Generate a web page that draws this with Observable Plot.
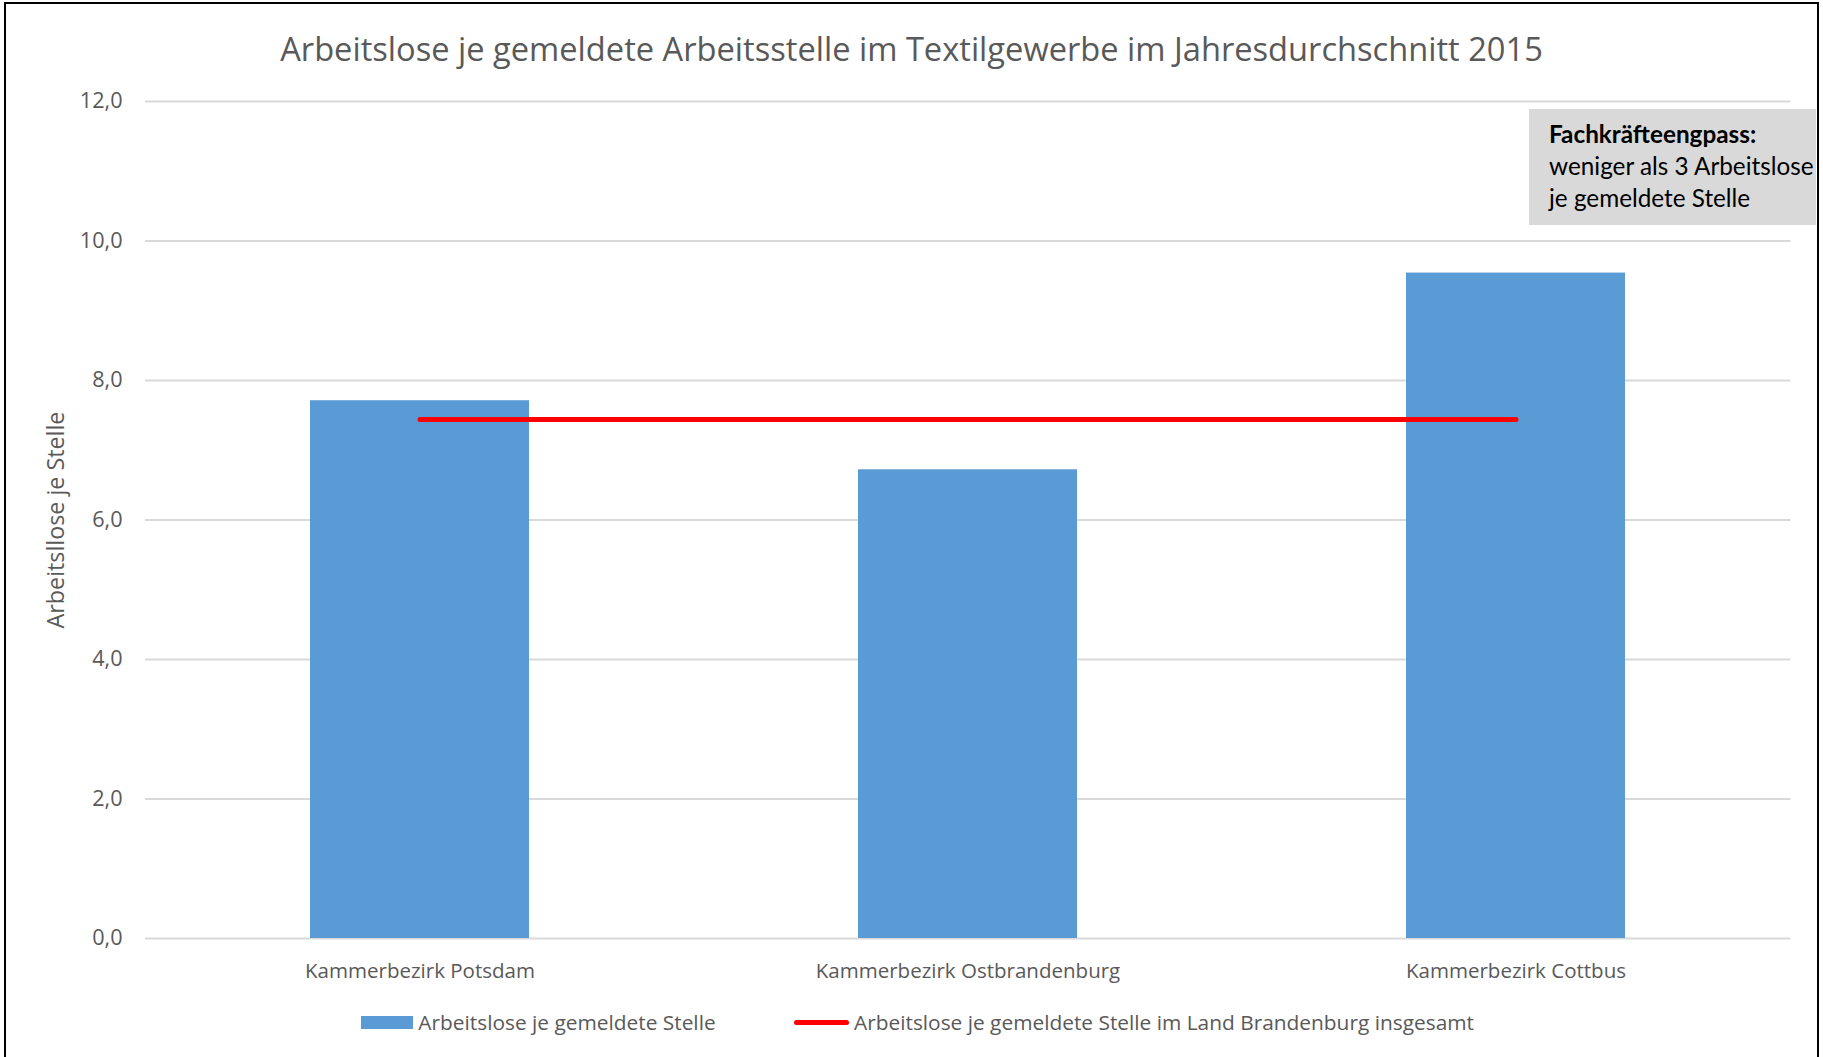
<!DOCTYPE html>
<html>
<head>
<meta charset="utf-8">
<script src="https://cdn.jsdelivr.net/npm/d3@7"></script>
<script src="https://cdn.jsdelivr.net/npm/@observablehq/plot@0.6"></script>
<style>
  html, body { margin: 0; padding: 0; background: #fff; overflow: hidden; }
  #page { position: relative; width: 1823px; height: 1057px; overflow: hidden; background: #fff; }
  #frame { position: absolute; left: 4px; top: 2px; width: 1815px; height: 1100px; box-sizing: border-box; border: 2.5px solid #000; z-index: 5; pointer-events: none; }
  #title { position: absolute; left: 0; width: 1823px; text-align: center; color: #595959; font-family: 'Open Sans'; line-height: 1; white-space: nowrap; }
  #chart { position: absolute; left: 0; top: 80px; }
  .leg { position: absolute; color: #595959; font-family: 'Open Sans'; line-height: 1; white-space: nowrap; }
</style>
</head>
<body>
<div id="page">
  <div id="frame"></div>
  <div id="title"></div>
  <div id="chart"></div>
</div>
<script>
// ---- data ----
const regions = ["Kammerbezirk Potsdam", "Kammerbezirk Ostbrandenburg", "Kammerbezirk Cottbus"];
const ratios = [7.71, 6.72, 9.54];
const landAverage = [7.44, 7.44, 7.44];
const yTicks = [0, 2, 4, 6, 8, 10, 12];
const yTickLabels = ["0,0", "2,0", "4,0", "6,0", "8,0", "10,0", "12,0"];
const titleText = "Arbeitslose je gemeldete Arbeitsstelle im Textilgewerbe im Jahresdurchschnitt 2015";
const yLabel = "Arbeitsllose je Stelle";
const legendLabels = ["Arbeitslose je gemeldete Stelle", "Arbeitslose je gemeldete Stelle im Land Brandenburg insgesamt"];
const noteTitle = "Fachkräfteengpass:";
const noteLines = ["weniger als 3 Arbeitslose", "je gemeldete Stelle"];

// ---- font fitting ----
const ctx = document.createElement("canvas").getContext("2d");
function fit(text, target, family, weight = "400") {
  ctx.font = `${weight} 100px ${family}`;
  return 100 * target / ctx.measureText(text).width;
}
const OS = "'Open Sans'";
const titleF = fit(titleText, 1263, OS);
const xF = fit(regions[0], 230, OS);
const tickF = fit("0,0", 30.3, OS);
const yTitleF = fit(yLabel, 217, OS);
const legendF = fit(legendLabels[1], 620, OS);
const noteF = fit(noteLines[0], 266, "Lato");

const page = document.getElementById("page");

// ---- title ----
const title = document.getElementById("title");
title.textContent = titleText;
title.style.fontSize = titleF + "px";
title.style.top = (61.8 - 0.888 * titleF) + "px";

// ---- chart ----
const data = regions.map((r, i) => ({region: r, value: ratios[i], avg: landAverage[i]}));

function noteBox(index, scales, values, dims) {
  const g = d3.create("svg:g");
  g.append("rect").attr("x", 1529).attr("y", 29).attr("width", 287).attr("height", 116).attr("fill", "#d9d9d9");
  const t = g.append("g").attr("font-family", "Lato").attr("font-size", noteF).attr("fill", "#000").attr("text-anchor", "start");
  t.append("text").attr("x", 1549).attr("y", 62.7).attr("font-weight", "bold").text(noteTitle);
  t.append("text").attr("x", 1549).attr("y", 94.5).text(noteLines[0]);
  t.append("text").attr("x", 1549).attr("y", 126.7).text(noteLines[1]);
  return g.node();
}

const plot = Plot.plot({
  width: 1823,
  height: 915,
  marginLeft: 145,
  marginRight: 32.5,
  marginTop: 21,
  marginBottom: 57,
  style: {fontFamily: OS, color: "#595959", background: "transparent", overflow: "visible"},
  x: {domain: regions, paddingInner: 0.6, paddingOuter: 0.3, align: 0.5, label: null},
  y: {domain: [0, 12], label: null},
  marks: [
    Plot.ruleY(yTicks, {stroke: "#d9d9d9", strokeWidth: 2}),
    Plot.barY(data, {x: "region", y: "value", fill: "#5b9bd5"}),
    Plot.lineY(data, {x: "region", y: "avg", stroke: "#ff0000", strokeWidth: 5, strokeLinecap: "round"}),
    Plot.axisY({ticks: yTicks, tickFormat: d => yTickLabels[yTicks.indexOf(d)], tickSize: 0, tickPadding: 23, fontSize: tickF, label: null}),
    Plot.axisX({tickSize: 0, tickPadding: 39.3 - 0.71 * xF, fontSize: xF, label: null}),
    Plot.text([yLabel], {frameAnchor: "left", textAnchor: "middle", lineAnchor: "middle", rotate: -90, dx: -89, fontSize: yTitleF, fill: "#595959"}),
    noteBox
  ]
});
document.getElementById("chart").appendChild(plot);

// ---- legend ----
function addDiv(css, text) {
  const d = document.createElement("div");
  Object.assign(d.style, css);
  if (text) d.textContent = text;
  page.appendChild(d);
  return d;
}
addDiv({position: "absolute", left: "361px", top: "1016px", width: "52px", height: "13.3px", background: "#5b9bd5"});
const l1 = addDiv({left: "418.3px", top: (1030.5 - 0.888 * legendF) + "px", fontSize: legendF + "px"}, legendLabels[0]);
l1.className = "leg";
addDiv({position: "absolute", left: "794px", top: "1020.2px", width: "55px", height: "5px", background: "#ff0000", borderRadius: "2.5px"});
const l2 = addDiv({left: "854px", top: (1030.5 - 0.888 * legendF) + "px", fontSize: legendF + "px"}, legendLabels[1]);
l2.className = "leg";
</script>
</body>
</html>
